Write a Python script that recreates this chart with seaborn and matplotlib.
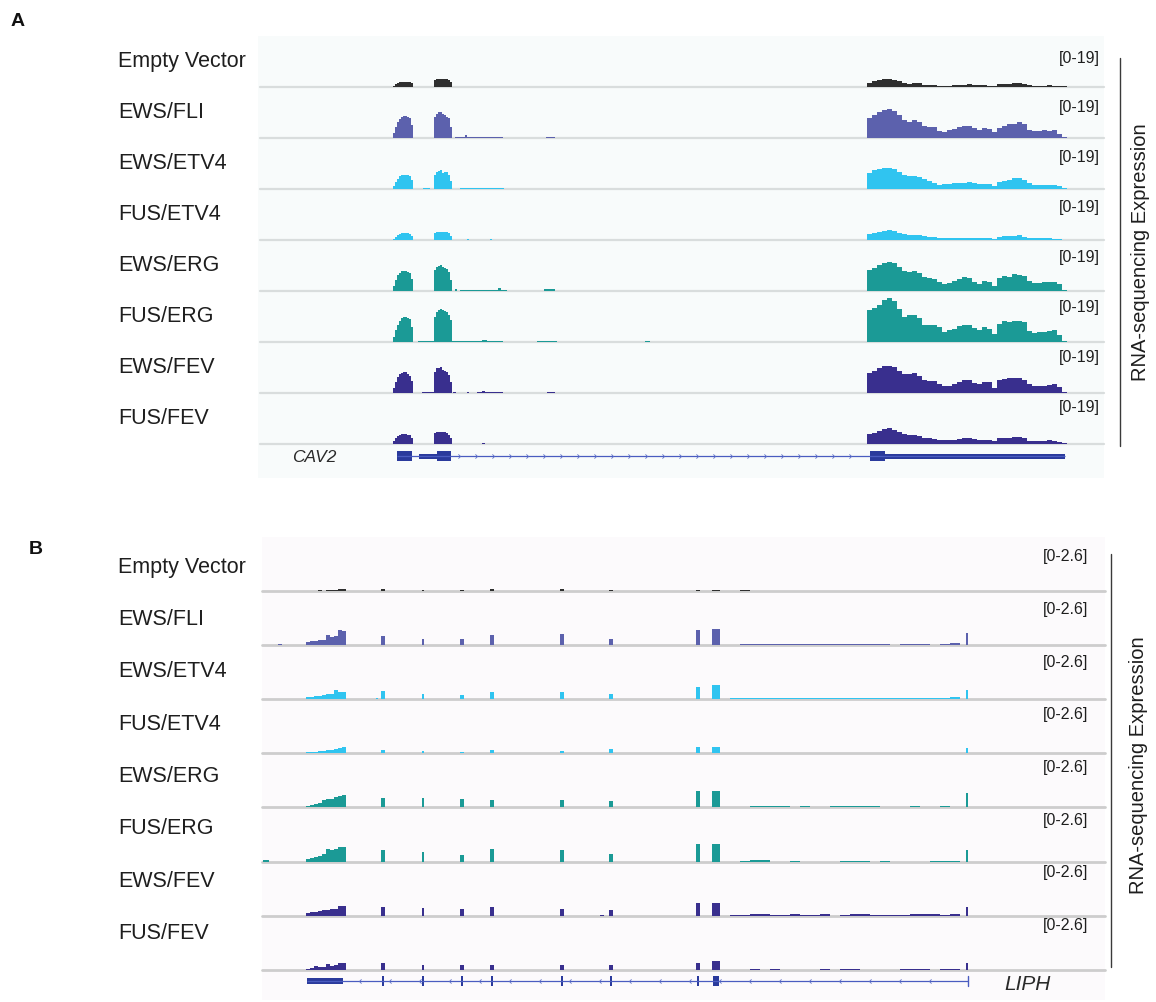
import numpy as np
import pandas as pd
import matplotlib
matplotlib.use("Agg")
import matplotlib.pyplot as plt
import seaborn as sns
from matplotlib.patches import Rectangle
from matplotlib.path import Path

# ---------------------------------------------------------------- samples
samples = ["Empty Vector", "EWS/FLI", "EWS/ETV4", "FUS/ETV4",
           "EWS/ERG", "FUS/ERG", "EWS/FEV", "FUS/FEV"]
sample_colors = ["#2f2f2f", "#5c61ad", "#30c4f0", "#30c4f0",
                 "#1b9a96", "#1b9a96", "#392f8e", "#392f8e"]

# ---------------------------------------------------------------- CAV2 locus (kb from window start)
cav2_span = 8.44
cav2_range = 19
cav2_ex1_edges = [1.33, 1.35, 1.37, 1.39, 1.41, 1.43, 1.45, 1.47, 1.49, 1.51, 1.525]
cav2_ex1 = [
    [0.5, 1.0, 1.5, 1.9, 2.0, 2.0, 2.0, 2.0, 1.9, 1.6],
    [1.8, 4.0, 5.8, 7.0, 7.7, 8.2, 8.2, 7.9, 7.4, 5.0],
    [1.0, 2.5, 3.8, 4.7, 5.1, 5.3, 5.2, 5.1, 4.9, 3.2],
    [0.5, 1.3, 2.0, 2.4, 2.6, 2.7, 2.7, 2.5, 2.2, 1.5],
    [1.8, 4.0, 5.8, 6.8, 7.3, 7.6, 7.5, 7.1, 6.7, 4.5],
    [2.0, 4.4, 6.5, 7.9, 8.8, 9.5, 9.5, 9.1, 8.4, 5.5],
    [1.7, 4.0, 5.9, 7.0, 7.6, 7.9, 7.7, 7.2, 6.4, 4.5],
    [1.0, 2.2, 3.0, 3.5, 3.8, 3.9, 3.8, 3.5, 3.2, 2.2],
]
cav2_ex2_edges = [1.74, 1.76, 1.78, 1.80, 1.82, 1.84, 1.86, 1.88, 1.90, 1.92]
cav2_ex2 = [
    [2.6, 2.9, 3.0, 3.0, 3.0, 2.9, 2.8, 2.5, 1.8],
    [7.8, 9.1, 9.6, 9.8, 8.9, 8.4, 8.0, 7.5, 4.1],
    [5.3, 6.3, 6.8, 7.1, 6.0, 6.2, 6.2, 5.3, 2.9],
    [2.7, 2.9, 3.0, 3.1, 3.0, 2.9, 2.9, 2.6, 1.5],
    [7.8, 9.1, 9.5, 9.7, 8.8, 8.6, 8.3, 7.2, 4.1],
    [9.3, 11.2, 12.0, 12.4, 11.8, 11.4, 11.0, 9.9, 8.1],
    [7.9, 9.2, 9.5, 9.6, 8.6, 8.2, 7.8, 6.7, 4.2],
    [4.1, 4.4, 4.6, 4.6, 4.4, 4.3, 4.1, 3.5, 2.2],
]
cav2_ex3_edges = np.round(6.07 + 0.05 * np.arange(41), 3)
cav2_ex3 = [
    [1.6, 2.1, 2.5, 2.9, 2.9, 2.6, 2.1, 1.6, 1.2, 1.5, 1.5, 0.9, 0.7, 0.6, 0.5, 0.5, 0.5, 0.6, 0.7, 0.9,
     1.0, 0.7, 0.6, 0.6, 0.5, 0.5, 1.0, 1.1, 1.2, 1.4, 1.5, 1.1, 0.6, 0.5, 0.5, 0.5, 0.6, 0.5, 0.4, 0.2],
    [7.6, 8.4, 9.7, 10.3, 10.9, 10.1, 8.4, 6.7, 6.0, 6.6, 6.0, 4.5, 4.1, 4.1, 2.6, 2.4, 2.9, 3.4, 4.1, 4.6,
     4.3, 3.7, 2.9, 3.6, 3.4, 2.1, 3.9, 4.6, 5.1, 5.3, 6.0, 5.1, 3.1, 2.6, 2.6, 2.9, 2.7, 2.9, 1.6, 0.4],
    [5.8, 7.0, 7.5, 7.8, 7.8, 7.6, 6.5, 5.2, 4.7, 5.0, 4.5, 3.7, 2.9, 2.2, 1.6, 1.7, 1.9, 2.1, 2.2, 2.4,
     2.5, 2.2, 1.9, 1.9, 1.9, 1.0, 2.7, 3.1, 3.5, 4.0, 4.1, 3.5, 2.2, 1.4, 1.5, 1.6, 1.6, 1.6, 1.1, 0.2],
    [2.2, 2.6, 3.0, 3.5, 3.6, 3.4, 2.7, 2.2, 2.0, 1.9, 1.7, 1.5, 1.2, 1.1, 0.7, 0.6, 0.7, 0.9, 0.9, 0.9,
     0.9, 0.7, 0.6, 0.6, 0.6, 0.5, 1.2, 1.5, 1.5, 1.6, 1.7, 1.2, 0.7, 0.6, 0.6, 0.6, 0.6, 0.5, 0.4, 0.1],
    [7.8, 8.4, 9.7, 10.6, 10.9, 10.3, 8.9, 7.5, 7.0, 7.5, 6.8, 5.2, 4.7, 4.5, 3.5, 2.6, 3.1, 3.7, 4.3, 5.1,
     4.7, 3.5, 2.7, 3.9, 3.5, 1.9, 4.7, 5.6, 5.3, 6.2, 6.1, 5.5, 3.7, 3.1, 3.1, 3.2, 3.4, 3.5, 2.5, 0.5],
    [11.8, 12.8, 13.9, 15.5, 16.5, 15.2, 12.4, 9.3, 9.9, 10.2, 8.9, 6.2, 6.5, 6.5, 5.6, 3.7, 4.3, 5.0, 5.8, 6.2,
     6.5, 5.3, 4.5, 5.6, 5.0, 2.9, 6.8, 7.7, 7.5, 7.7, 7.8, 7.5, 4.0, 3.4, 3.7, 3.7, 4.0, 4.3, 2.7, 0.5],
    [7.5, 8.1, 9.2, 10.2, 9.9, 9.7, 8.1, 7.1, 7.1, 7.5, 6.2, 4.7, 4.5, 4.3, 3.4, 2.5, 2.7, 3.5, 4.0, 5.0,
     4.7, 3.7, 3.2, 4.2, 4.1, 1.7, 4.7, 5.3, 5.5, 5.5, 5.5, 5.0, 3.4, 2.6, 2.6, 2.7, 3.1, 3.2, 2.2, 0.5],
    [3.9, 4.2, 5.0, 5.6, 5.8, 5.2, 4.3, 3.9, 3.5, 3.5, 3.0, 2.4, 2.2, 1.9, 1.4, 1.4, 1.4, 1.6, 1.9, 2.1,
     2.2, 1.7, 1.5, 1.4, 1.4, 1.0, 2.1, 2.2, 2.2, 2.5, 2.6, 2.1, 1.2, 1.0, 1.0, 1.1, 1.4, 1.2, 0.9, 0.2],
]
# low intronic read coverage: (start kb, end kb, depth)
cav2_intronic = [
    [],
    [(1.95, 2.05, 0.35), (2.05, 2.07, 1.0), (2.07, 2.43, 0.35), (2.86, 2.95, 0.5)],
    [(1.63, 1.70, 0.25), (2.00, 2.44, 0.35)],
    [(2.07, 2.09, 0.3), (2.30, 2.32, 0.3)],
    [(1.95, 1.97, 0.6), (2.00, 2.38, 0.5), (2.38, 2.41, 1.1), (2.41, 2.47, 0.5), (2.84, 2.95, 0.75)],
    [(1.58, 1.74, 0.35), (1.92, 2.22, 0.35), (2.22, 2.27, 0.75), (2.27, 2.43, 0.35), (2.77, 2.97, 0.35),
     (3.85, 3.90, 0.35)],
    [(1.62, 1.74, 0.35), (1.93, 1.96, 0.3), (2.07, 2.09, 0.5), (2.17, 2.22, 0.35), (2.22, 2.25, 0.75),
     (2.25, 2.43, 0.35), (2.87, 2.95, 0.5)],
    [(2.22, 2.25, 0.35)],
]
# CAV2 gene model (+ strand)
cav2_cds = [(1.37, 1.52), (1.77, 1.91), (6.10, 6.25)]
cav2_utr = [(1.59, 1.77), (6.25, 8.05)]
cav2_tx = (1.37, 8.05)

# ---------------------------------------------------------------- LIPH locus (kb from window start)
liph_span = 42.15
liph_range = 2.6
liph_utr_edges = [2.2, 2.4, 2.6, 2.8, 3.0, 3.2, 3.4, 3.6, 3.8, 4.0, 4.2]
liph_utr = [
    [0.0, 0.0, 0.0, 0.04, 0.0, 0.03, 0.04, 0.05, 0.10, 0.12],
    [0.16, 0.21, 0.21, 0.24, 0.24, 0.51, 0.40, 0.45, 0.72, 0.69],
    [0.13, 0.13, 0.14, 0.16, 0.18, 0.24, 0.26, 0.45, 0.36, 0.35],
    [0.05, 0.06, 0.08, 0.10, 0.12, 0.16, 0.18, 0.20, 0.24, 0.29],
    [0.08, 0.10, 0.16, 0.20, 0.38, 0.40, 0.40, 0.50, 0.55, 0.59],
    [0.13, 0.19, 0.22, 0.26, 0.37, 0.58, 0.53, 0.62, 0.68, 0.72],
    [0.13, 0.15, 0.18, 0.20, 0.26, 0.27, 0.32, 0.34, 0.45, 0.48],
    [0.05, 0.08, 0.16, 0.12, 0.12, 0.28, 0.18, 0.22, 0.30, 0.32],
]
liph_exons = [(5.95, 6.15), (7.98, 8.10), (9.90, 10.10), (11.40, 11.60), (14.90, 15.10),
              (17.35, 17.55), (21.70, 21.88), (22.50, 22.90), (35.18, 35.30)]
liph_exon_cov = [
    [0.08, 0.03, 0.03, 0.08, 0.08, 0.06, 0.06, 0.05, 0.00],
    [0.45, 0.29, 0.27, 0.51, 0.53, 0.27, 0.75, 0.77, 0.56],
    [0.40, 0.24, 0.19, 0.35, 0.37, 0.27, 0.61, 0.66, 0.45],
    [0.16, 0.11, 0.06, 0.16, 0.11, 0.19, 0.32, 0.30, 0.27],
    [0.43, 0.45, 0.40, 0.35, 0.37, 0.32, 0.77, 0.77, 0.69],
    [0.56, 0.45, 0.29, 0.58, 0.53, 0.37, 0.85, 0.85, 0.53],
    [0.42, 0.37, 0.32, 0.42, 0.30, 0.26, 0.61, 0.61, 0.42],
    [0.32, 0.24, 0.22, 0.24, 0.21, 0.22, 0.32, 0.42, 0.34],
]
liph_tail_edges = np.round(23.4 + 0.5 * np.arange(24), 2)
liph_tail = [
    [0, 0.03, 0, 0, 0, 0, 0, 0, 0, 0, 0, 0, 0, 0, 0, 0, 0, 0, 0, 0, 0, 0, 0],
    [0, 0.04, 0.05, 0.06, 0.05, 0.04, 0.05, 0.04, 0.03, 0.05, 0.05, 0.06, 0.05, 0.06, 0.05, 0.03,
     0, 0.03, 0.04, 0.04, 0.02, 0.04, 0.10],
    [0.04, 0.06, 0.07, 0.08, 0.07, 0.06, 0.07, 0.08, 0.06, 0.06, 0.07, 0.08, 0.07, 0.08, 0.06, 0.07,
     0.08, 0.06, 0.07, 0.06, 0.07, 0.08, 0.09],
    [0, 0.03, 0.03, 0.02, 0, 0, 0.03, 0.03, 0, 0, 0, 0.03, 0.03, 0, 0, 0, 0, 0, 0.02, 0, 0, 0, 0],
    [0.03, 0.04, 0.05, 0.05, 0.06, 0.05, 0.04, 0.05, 0.03, 0.04, 0.05, 0.06, 0.06, 0.05, 0.05, 0.04,
     0.03, 0.04, 0.05, 0.04, 0.03, 0.05, 0.04],
    [0, 0.04, 0.05, 0.05, 0, 0, 0.03, 0, 0, 0, 0, 0.03, 0.03, 0.03, 0, 0.03, 0, 0, 0, 0, 0.02, 0.03, 0.04],
    [0.03, 0.04, 0.06, 0.07, 0.05, 0.04, 0.10, 0.04, 0.04, 0.06, 0, 0.04, 0.08, 0.06, 0.04, 0.05,
     0.04, 0.05, 0.06, 0.07, 0.09, 0.05, 0.08],
    [0, 0, 0.03, 0, 0.03, 0, 0, 0, 0, 0.03, 0, 0.03, 0.02, 0, 0, 0, 0, 0.02, 0.03, 0.03, 0, 0.03, 0.03],
]
liph_other = [
    [],
    [(0.8, 1.0, 0.05)],
    [(5.7, 5.8, 0.04)],
    [],
    [(5.6, 5.7, 0.04)],
    [(0.05, 0.35, 0.05)],
    [(16.9, 17.1, 0.03)],
    [],
]
# LIPH gene model (- strand)
liph_utr_block = (2.25, 4.05)
liph_cds = [(6.00, 6.12), (8.00, 8.10), (9.94, 10.06), (11.44, 11.56), (14.94, 15.06),
            (17.39, 17.51), (21.74, 21.86), (22.55, 22.85)]
liph_tx = (2.25, 35.30)

# ---------------------------------------------------------------- figure
sns.set_theme(style="white")
plt.rcParams["font.family"] = ["Liberation Sans", "DejaVu Sans"]

W, H = 1156, 1002
fig = plt.figure(figsize=(W / 100, H / 100), dpi=100)
fig.patch.set_facecolor("white")


def fx(x):
    return x / W


def fy(y):
    return 1 - y / H


def px_axes(x0, y_top, x1, y_bot):
    ax = fig.add_axes([fx(x0), fy(y_bot), (x1 - x0) / W, (y_bot - y_top) / H])
    ax.set_facecolor("none")
    return ax


def pieces_from_bins(edges, values):
    return [(edges[i], edges[i + 1], v) for i, v in enumerate(values)]


def coverage(ax, pieces, color, span, ymax, sep_color, sep_lw):
    pieces = [p for p in pieces if p[2] > 0]
    edges = sorted({round(float(v), 3) for s, e, _ in pieces for v in (s, e)})
    df = pd.DataFrame({"pos": [(s + e) / 2 for s, e, _ in pieces],
                       "depth": [v for _, _, v in pieces]})
    sns.histplot(data=df, x="pos", weights="depth", bins=edges, element="step",
                 fill=True, color=color, alpha=1, linewidth=0, ax=ax)
    ax.axhline(0, color=sep_color, lw=sep_lw, zorder=0.5, clip_on=False)
    ax.set_xlim(0, span)
    ax.set_ylim(0, ymax)
    ax.set_axis_off()


chev_right = Path([(-0.5, 1), (0.5, 0), (-0.5, -1)], [Path.MOVETO, Path.LINETO, Path.LINETO])
chev_left = Path([(0.5, 1), (-0.5, 0), (0.5, -1)], [Path.MOVETO, Path.LINETO, Path.LINETO])

label_kw = dict(fontsize=15.5, color="#1e1e1e", ha="left", va="center")
range_kw = dict(fontsize=11.5, color="#1e1e1e", ha="right", va="center")

# ================================================================ panel A
fig.add_artist(Rectangle((fx(258), fy(478)), (1104 - 258) / W, (478 - 36) / H,
                         transform=fig.transFigure, facecolor="#f8fbfb", edgecolor="none", zorder=0))
for i, name in enumerate(samples):
    base = 87 + i * 51
    ax = px_axes(260, base - 51, 1104, base)
    pieces = (pieces_from_bins(cav2_ex1_edges, cav2_ex1[i])
              + pieces_from_bins(cav2_ex2_edges, cav2_ex2[i])
              + pieces_from_bins(list(cav2_ex3_edges), cav2_ex3[i])
              + cav2_intronic[i])
    coverage(ax, pieces, sample_colors[i], cav2_span, cav2_range, "#d9dddd", 1.6)
    fig.text(fx(118), fy(62 + i * 50.9), name, **label_kw)
    fig.text(fx(1100), fy(58 + i * 49.9), f"[0-{cav2_range}]", **range_kw)

gax = px_axes(260, 445, 1104, 467)
gene_blue = "#2a3a9c"
gax.plot(cav2_tx, [0, 0], color="#4a5cc0", lw=0.9, solid_capstyle="butt")
for s, e in cav2_cds:
    gax.add_patch(Rectangle((s, -0.5), e - s, 1.0, facecolor=gene_blue, edgecolor="none"))
for s, e in cav2_utr:
    gax.add_patch(Rectangle((s, -0.25), e - s, 0.5, facecolor=gene_blue, edgecolor="none"))
chev_a = np.arange(1.99, 6.05, 0.17)
gax.plot(chev_a, np.zeros_like(chev_a), ls="none",
         marker=chev_right, ms=3.0, mew=0.6, color="#5a6cc8", mfc="none")
gax.set_xlim(0, cav2_span)
gax.set_ylim(-1.1, 1.1)
gax.set_axis_off()
fig.text(fx(292), fy(458), "CAV2", fontsize=12.5, style="italic", color="#2a2a2a", ha="left", va="center")

fig.add_artist(plt.Line2D([fx(1120), fx(1120)], [fy(58), fy(446)], transform=fig.transFigure,
                          color="#3a3a3a", lw=1.0))
fig.text(fx(1141), fy(252), "RNA-sequencing Expression", rotation=90, fontsize=14.5,
         color="#1e1e1e", ha="center", va="center")
fig.text(fx(11), fy(21), "A", fontsize=14, fontweight="bold", color="#111111", ha="left", va="center")

# ================================================================ panel B
fig.add_artist(Rectangle((fx(262), fy(1000)), (1105 - 262) / W, (1000 - 537) / H,
                         transform=fig.transFigure, facecolor="#fcfafc", edgecolor="none", zorder=0))
for i, name in enumerate(samples):
    base = 591 + i * 54.1
    ax = px_axes(262, base - 54, 1105, base)
    pieces = (pieces_from_bins(liph_utr_edges, liph_utr[i])
              + [(s, e, v) for (s, e), v in zip(liph_exons, liph_exon_cov[i])]
              + pieces_from_bins(list(liph_tail_edges), liph_tail[i])
              + liph_other[i])
    coverage(ax, pieces, sample_colors[i], liph_span, liph_range, "#cdcdcd", 2.0)
    fig.text(fx(118), fy(567 + i * 52.4), name, **label_kw)
    fig.text(fx(1088), fy(557 + i * 52.6), f"[0-{liph_range}]", **range_kw)

gbx = px_axes(262, 970, 1105, 991)
gbx.plot(liph_tx, [0, 0], color="#4a5cc0", lw=0.9, solid_capstyle="butt")
gbx.add_patch(Rectangle((liph_utr_block[0], -0.3), liph_utr_block[1] - liph_utr_block[0], 0.6,
                        facecolor=gene_blue, edgecolor="none"))
for s, e in liph_cds:
    gbx.add_patch(Rectangle((s, -0.5), e - s, 1.0, facecolor=gene_blue, edgecolor="none"))
gbx.plot([liph_tx[1], liph_tx[1]], [-0.5, 0.5], color="#4a5cc0", lw=1.0)
chev_pos = np.arange(4.9, 34.6, 1.5)
gbx.plot(chev_pos, np.zeros_like(chev_pos), ls="none", marker=chev_left, ms=3.0, mew=0.6,
         color="#5a6cc8", mfc="none")
gbx.set_xlim(0, liph_span)
gbx.set_ylim(-1.05, 1.05)
gbx.set_axis_off()
fig.text(fx(1004), fy(985), "LIPH", fontsize=15, style="italic", color="#2a2a2a", ha="left", va="center")

fig.add_artist(plt.Line2D([fx(1111), fx(1111)], [fy(554), fy(967)], transform=fig.transFigure,
                          color="#3a3a3a", lw=1.0))
fig.text(fx(1138), fy(765), "RNA-sequencing Expression", rotation=90, fontsize=14.5,
         color="#1e1e1e", ha="center", va="center")
fig.text(fx(29), fy(549), "B", fontsize=14, fontweight="bold", color="#111111", ha="left", va="center")

fig.savefig("out.png", dpi=100)
